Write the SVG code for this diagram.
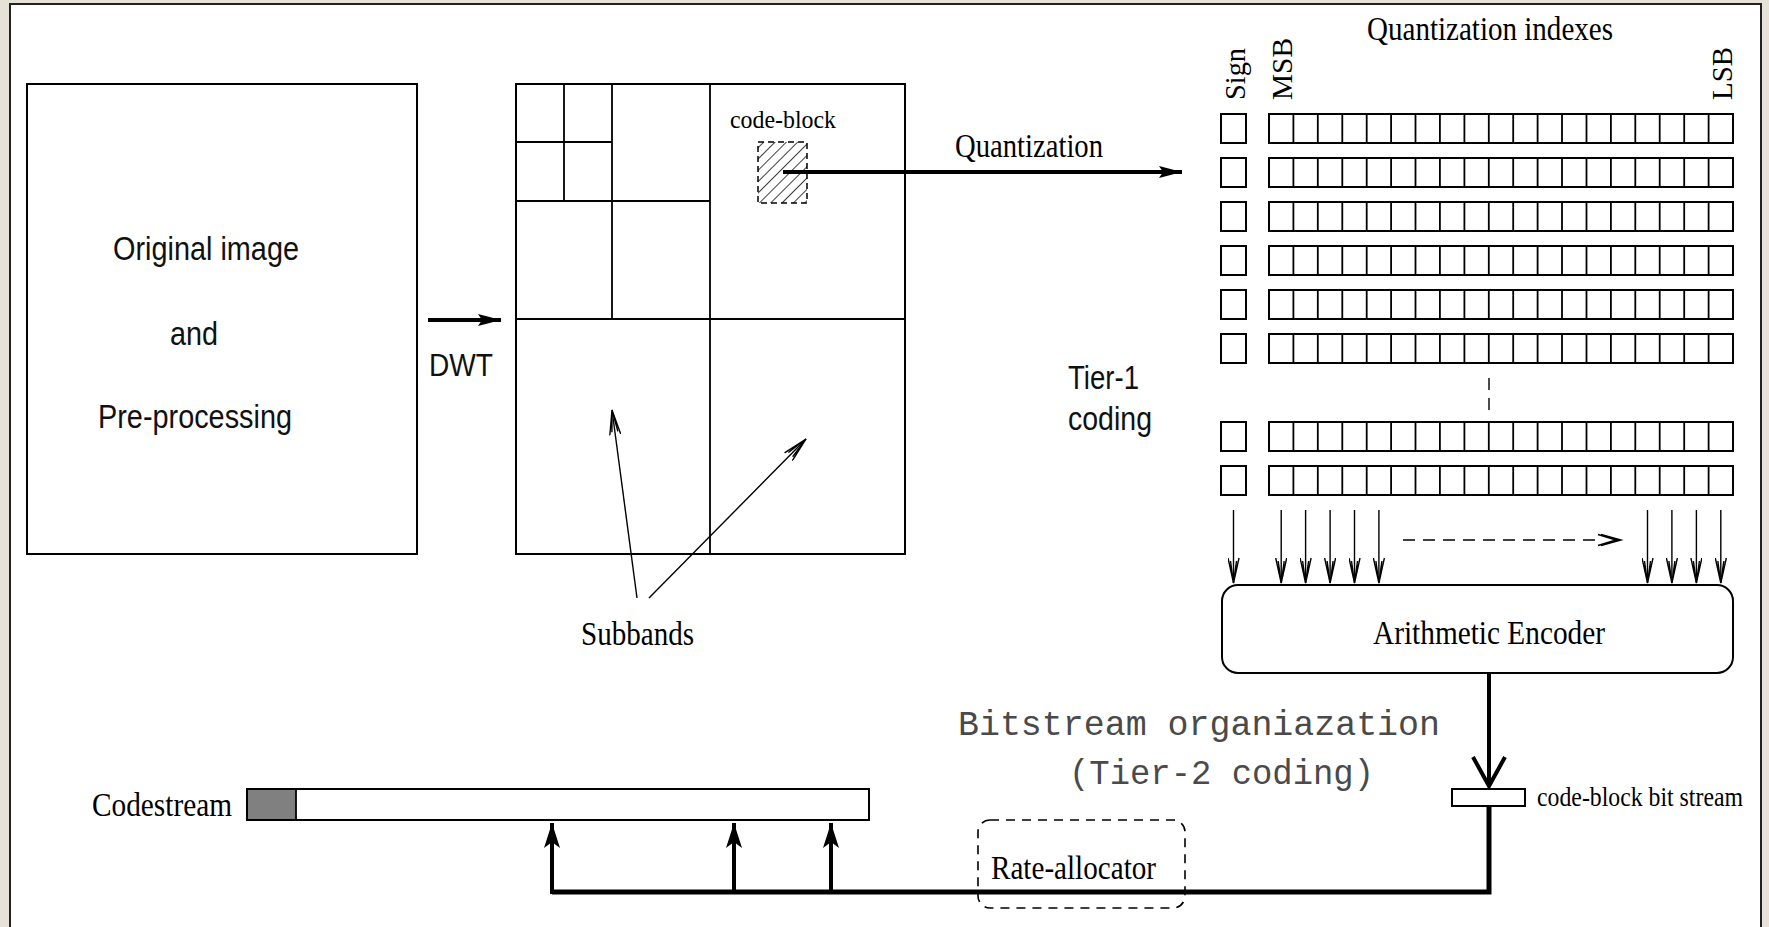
<svg xmlns="http://www.w3.org/2000/svg" width="1769" height="927" viewBox="0 0 1769 927">
<style>
.frame{fill:#fff;stroke:#222;stroke-width:2}
.box{fill:#fff;stroke:#000;stroke-width:2}
.ln{fill:none;stroke:#000;stroke-width:1.8}
.thin{fill:none;stroke:#000;stroke-width:1.4}
.thick{fill:none;stroke:#000;stroke-width:4}
.heavy{fill:none;stroke:#000;stroke-width:5}
.dash{fill:none;stroke:#000;stroke-width:1.6;stroke-dasharray:9 7}
.sans{font-family:"Liberation Sans",Arial,sans-serif;fill:#111}
.serif{font-family:"Liberation Serif","Times New Roman",serif;fill:#000}
.mono{font-family:"Liberation Mono","Courier New",monospace;fill:#4a4a4a}
</style>
<defs>
<pattern id="hatch" patternUnits="userSpaceOnUse" width="8" height="8" patternTransform="rotate(45)">
<line x1="0" y1="0" x2="0" y2="8" stroke="#000" stroke-width="1.5"/>
</pattern>
<g id="row">
<rect x="1221" y="0" width="25" height="29" class="box"/>
<rect x="1269" y="0" width="464" height="29" class="box"/>
<path class="ln" d="M1293.4,0V29M1317.8,0V29M1342.3,0V29M1366.7,0V29M1391.1,0V29M1415.5,0V29M1439.9,0V29M1464.4,0V29M1488.8,0V29M1513.2,0V29M1537.6,0V29M1562,0V29M1586.5,0V29M1610.9,0V29M1635.3,0V29M1659.7,0V29M1684.2,0V29M1708.6,0V29"/>
</g>
<marker id="openV" markerUnits="userSpaceOnUse" viewBox="0 0 26 12" refX="25" refY="6" markerWidth="26" markerHeight="12" orient="auto">
<path d="M0,0.5L25,6L0,11.5M3,3L25,6L3,9" fill="none" stroke="#000" stroke-width="1.4"/>
</marker>
<marker id="solid" markerUnits="userSpaceOnUse" viewBox="0 0 24 14" refX="23" refY="7" markerWidth="24" markerHeight="14" orient="auto">
<path d="M0,1L23,7L0,13L4,7Z" fill="#000"/>
</marker>
<marker id="up" markerUnits="userSpaceOnUse" viewBox="0 0 26 18" refX="25" refY="9" markerWidth="26" markerHeight="18" orient="auto">
<path d="M0,1L25,9L0,17L6,9Z" fill="#000"/>
</marker>
</defs>
<rect width="1769" height="927" fill="#e6e2d8"/>
<rect x="10" y="4" width="1751" height="935" class="frame"/>

<g id="original-image">
<rect x="27" y="84" width="390" height="470" class="box"/>
<text class="sans" x="113" y="260" font-size="33" textLength="186" lengthAdjust="spacingAndGlyphs">Original image</text>
<text class="sans" x="170" y="345" font-size="33" textLength="48" lengthAdjust="spacingAndGlyphs">and</text>
<text class="sans" x="98" y="428" font-size="33" textLength="194" lengthAdjust="spacingAndGlyphs">Pre-processing</text>
</g>

<g id="dwt-label">
<text class="sans" x="429" y="376" font-size="31" textLength="64" lengthAdjust="spacingAndGlyphs">DWT</text>
</g>

<g id="subbands">
<rect x="516" y="84" width="389" height="470" class="box"/>
<path class="ln" d="M710,84V554M516,319H905M612,84V319M516,201H710M564,84V201M516,142H612"/>
<rect x="758" y="142" width="49" height="61" fill="url(#hatch)" stroke="#000" stroke-width="1.5" stroke-dasharray="6 4"/>
<text class="serif" x="730" y="128" font-size="26" textLength="106" lengthAdjust="spacingAndGlyphs">code-block</text>
</g>

<g id="subbands-label">
<text class="serif" x="581" y="645" font-size="33" textLength="113" lengthAdjust="spacingAndGlyphs">Subbands</text>
</g>

<g id="quantization-label">
<text class="serif" x="955" y="157" font-size="34" textLength="148" lengthAdjust="spacingAndGlyphs">Quantization</text>
</g>

<g id="quantization-indexes">
<text class="serif" x="1367" y="40" font-size="34" textLength="246" lengthAdjust="spacingAndGlyphs">Quantization indexes</text>
<text class="serif" transform="translate(1245,100) rotate(-90)" font-size="29" textLength="52" lengthAdjust="spacingAndGlyphs">Sign</text>
<text class="serif" transform="translate(1292,100) rotate(-90)" font-size="29" textLength="62" lengthAdjust="spacingAndGlyphs">MSB</text>
<text class="serif" transform="translate(1732,100) rotate(-90)" font-size="29" textLength="53" lengthAdjust="spacingAndGlyphs">LSB</text>
<use href="#row" y="114"/>
<use href="#row" y="158"/>
<use href="#row" y="202"/>
<use href="#row" y="246"/>
<use href="#row" y="290"/>
<use href="#row" y="334"/>
<use href="#row" y="422"/>
<use href="#row" y="466"/>
<path class="thin" d="M1489,378V412" stroke-dasharray="12 8"/>
</g>

<g id="tier1-label">
<text class="sans" x="1068" y="389" font-size="33" textLength="71" lengthAdjust="spacingAndGlyphs">Tier-1</text>
<text class="sans" x="1068" y="430" font-size="33" textLength="84" lengthAdjust="spacingAndGlyphs">coding</text>
</g>

<g id="arithmetic-encoder">
<rect x="1222" y="585" width="511" height="88" rx="16" ry="16" class="box"/>
<text class="serif" x="1373" y="644" font-size="33" textLength="232" lengthAdjust="spacingAndGlyphs">Arithmetic Encoder</text>
</g>

<g id="tier2-label">
<text class="mono" x="958" y="735" font-size="35" textLength="482" lengthAdjust="spacingAndGlyphs">Bitstream organiazation</text>
<text class="mono" x="1069" y="784" font-size="35" textLength="305" lengthAdjust="spacingAndGlyphs">(Tier-2 coding)</text>
</g>

<g id="code-block-bit-stream">
<rect x="1452" y="789" width="73" height="17" class="box"/>
<text class="serif" x="1537" y="806" font-size="27" textLength="206" lengthAdjust="spacingAndGlyphs">code-block bit stream</text>
</g>

<g id="rate-allocator">
<rect x="978" y="820" width="207" height="88" rx="12" ry="12" class="dash"/>
<text class="serif" x="991" y="879" font-size="34" textLength="165" lengthAdjust="spacingAndGlyphs">Rate-allocator</text>
</g>

<g id="codestream">
<text class="serif" x="92" y="816" font-size="34" textLength="140" lengthAdjust="spacingAndGlyphs">Codestream</text>
<rect x="247" y="789" width="622" height="31" class="box"/>
<rect x="248" y="790" width="48" height="29" fill="#808080"/>
<path class="ln" d="M296,789V820"/>
</g>

<g id="connectors">
<path class="thick" d="M428,320H501" marker-end="url(#solid)"/>
<path class="thick" d="M783,172H1182" marker-end="url(#solid)"/>
<path class="thin" d="M637,598L612,410" marker-end="url(#openV)"/>
<path class="thin" d="M649,598L806,439" marker-end="url(#openV)"/>
<path class="thin" d="M1233.5,510V583" marker-end="url(#openV)"/>
<path class="thin" d="M1281.2,510V583" marker-end="url(#openV)"/>
<path class="thin" d="M1305.6,510V583" marker-end="url(#openV)"/>
<path class="thin" d="M1330.1,510V583" marker-end="url(#openV)"/>
<path class="thin" d="M1354.5,510V583" marker-end="url(#openV)"/>
<path class="thin" d="M1378.9,510V583" marker-end="url(#openV)"/>
<path class="thin" d="M1647.5,510V583" marker-end="url(#openV)"/>
<path class="thin" d="M1671.9,510V583" marker-end="url(#openV)"/>
<path class="thin" d="M1696.4,510V583" marker-end="url(#openV)"/>
<path class="thin" d="M1720.8,510V583" marker-end="url(#openV)"/>
<path class="thin" d="M1403,540H1600" stroke-dasharray="12 8"/>
<path class="thin" d="M1601,534.5L1621,540L1601,545.5M1598,534.5L1616,540L1598,545.5"/>
<path class="thick" d="M1489,673V786"/>
<path class="thick" d="M1473,757L1489,786L1505,757"/>
<path class="heavy" d="M1489,806V892H552"/>
<path class="thick" d="M552,894V823" marker-end="url(#up)"/>
<path class="thick" d="M734,894V823" marker-end="url(#up)"/>
<path class="thick" d="M831,894V823" marker-end="url(#up)"/>
</g>
</svg>
